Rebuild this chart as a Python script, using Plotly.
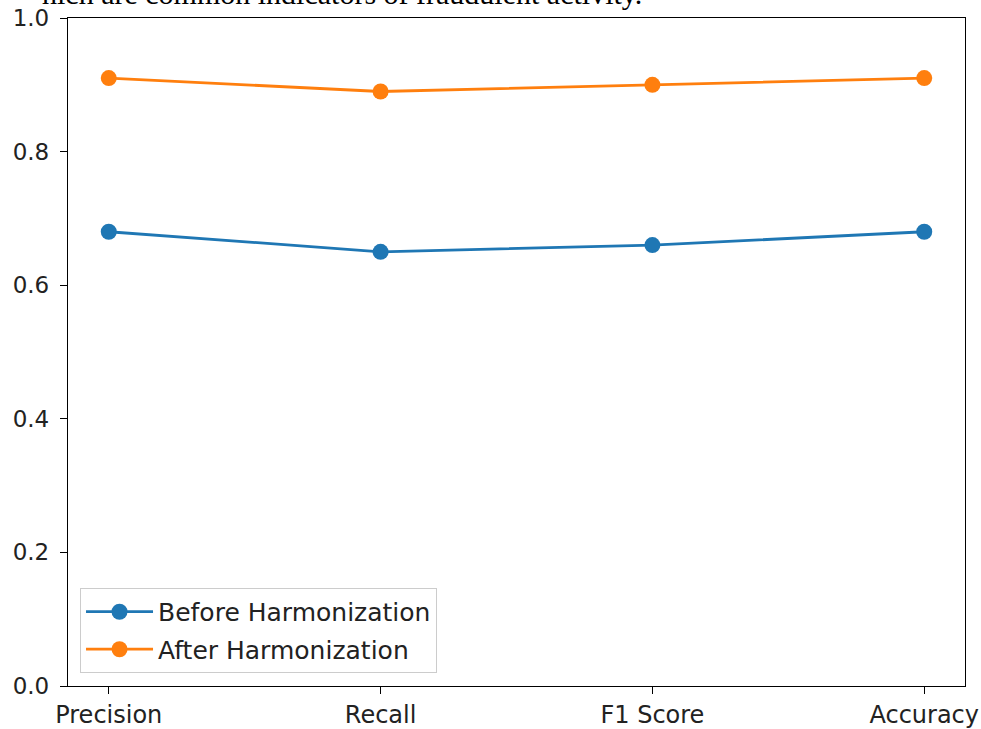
import plotly.graph_objects as go

metrics = ["Precision", "Recall", "F1 Score", "Accuracy"]
before = [0.68, 0.65, 0.66, 0.68]
after = [0.91, 0.89, 0.90, 0.91]
yticks = [0.0, 0.2, 0.4, 0.6, 0.8, 1.0]

blue = "#1f77b4"
orange = "#ff7f0e"
xfont = dict(family="DejaVu Sans", size=24, color="#222222")
yfont = dict(family="DejaVu Sans", size=23, color="#222222")

fig = go.Figure()
fig.add_trace(go.Scatter(x=list(range(len(metrics))), y=before, mode="lines+markers",
                         name="Before Harmonization", legendgroup="a",
                         line=dict(color=blue, width=2.8),
                         marker=dict(color=blue, size=16)))
fig.add_trace(go.Scatter(x=list(range(len(metrics))), y=after, mode="lines+markers",
                         name="After Harmonization", legendgroup="b",
                         line=dict(color=orange, width=2.8),
                         marker=dict(color=orange, size=16)))

fig.update_layout(
    width=981, height=729,
    margin=dict(l=68, r=16, t=18, b=43, autoexpand=False),
    paper_bgcolor="white", plot_bgcolor="white",
    font=xfont,
    showlegend=True,
    legend=dict(x=0.0134, y=0.0195, xanchor="left", yanchor="bottom",
                bgcolor="rgba(255,255,255,0.8)", bordercolor="#cccccc", borderwidth=1,
                font=dict(family="DejaVu Sans", size=25, color="#222222"),
                itemwidth=67, tracegroupgap=2),
    xaxis=dict(range=[-0.15, 3.15], tickmode="array",
               tickvals=list(range(len(metrics))), ticktext=metrics,
               showgrid=False, zeroline=False, automargin=False,
               showline=True, linecolor="black", linewidth=1.3, mirror=True,
               ticks="outside", ticklen=7, tickcolor="black", tickwidth=1.3,
               tickfont=xfont),
    yaxis=dict(range=[0, 1.0], tickmode="array", tickvals=yticks,
               ticktext=[f"{v:.1f}" for v in yticks],
               showgrid=False, zeroline=False, automargin=False,
               showline=True, linecolor="black", linewidth=1.3, mirror=True,
               ticks="outside", ticklen=7, tickcolor="black", tickwidth=1.3,
               ticklabelstandoff=6, tickfont=yfont),
)

fig.add_annotation(text="hich are common indicators of fraudulent activity.",
                   xref="paper", yref="paper", x=(40 - 68) / 897, y=1.009,
                   xanchor="left", yanchor="bottom", showarrow=False,
                   font=dict(family="Liberation Serif", size=30, color="black"))

fig.write_html("out.html", config={"displayModeBar": False},
               post_script="document.body.style.margin='0';document.body.style.overflow='hidden';")
